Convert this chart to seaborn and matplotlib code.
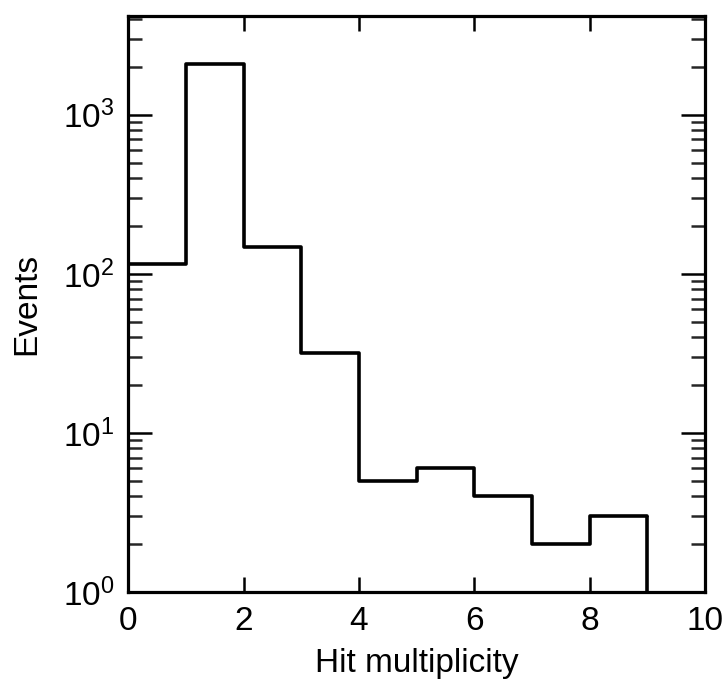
import matplotlib
matplotlib.use("Agg")
import matplotlib.pyplot as plt
import seaborn as sns
import numpy as np
import pandas as pd
from matplotlib.ticker import LogLocator, FixedLocator, NullFormatter

# data
bin_edges = [0, 1, 2, 3, 4, 5, 6, 7, 8, 9]
bin_centers = [0.5, 1.5, 2.5, 3.5, 4.5, 5.5, 6.5, 7.5, 8.5]
events = [115, 2100, 148, 32, 5, 6, 4, 2, 3]
x_ticks = [0, 2, 4, 6, 8, 10]
x_ticklabels = ["0", "2", "4", "6", "8", "10"]
y_ticks = [1, 10, 100, 1000]
y_ticklabels = [r"$10^{0}$", r"$10^{1}$", r"$10^{2}$", r"$10^{3}$"]

sns.set_style("ticks")
plt.rcParams["font.family"] = ["Liberation Sans", "DejaVu Sans"]
plt.rcParams["mathtext.fontset"] = "custom"
plt.rcParams["mathtext.rm"] = "Liberation Sans"
plt.rcParams["mathtext.it"] = "Liberation Sans"
plt.rcParams["text.color"] = "black"
plt.rcParams["axes.labelcolor"] = "black"

df = pd.DataFrame({"hits": bin_centers, "events": events})

fig = plt.figure(figsize=(7.24, 6.82), dpi=100)
ax = fig.add_axes([0.177, 0.132, 0.797, 0.845])

ymin = 1
sns.histplot(data=df, x="hits", weights="events", bins=bin_edges,
             element="step", fill=False, color="black", linewidth=2.6,
             log_scale=(False, True), ax=ax)
# closing verticals of the outline at the outer bin edges
ax.vlines([bin_edges[0], bin_edges[-1]], ymin, [events[0], events[-1]],
          colors="black", linewidth=2.6)

ax.set_xlim(0, 10)
ax.set_ylim(ymin, 4200)

for s in ax.spines.values():
    s.set_visible(True)
    s.set_linewidth(2.3)
    s.set_color("black")
    s.set_zorder(5)

ax.xaxis.set_major_locator(FixedLocator(x_ticks))
ax.set_xticklabels(x_ticklabels)
ax.yaxis.set_major_locator(FixedLocator(y_ticks))
ax.set_yticklabels(y_ticklabels)
ax.yaxis.set_minor_locator(LogLocator(base=10, subs=np.arange(2, 10), numticks=20))
ax.yaxis.set_minor_formatter(NullFormatter())

ax.tick_params(axis="x", which="major", direction="in", length=11, width=1.8,
               top=True, bottom=True, labelsize=24, pad=10, colors="black")
ax.tick_params(axis="y", which="major", direction="in", length=17, width=1.8,
               left=True, right=True, labelsize=24, pad=10, colors="black")
ax.tick_params(axis="y", which="minor", direction="in", length=10, width=1.8,
               left=True, right=True)

ax.set_xlabel("Hit multiplicity", fontsize=24, labelpad=8, color="black")
ax.set_ylabel("Events", fontsize=24, labelpad=15, color="black")

fig.savefig("out.png", dpi=100)
